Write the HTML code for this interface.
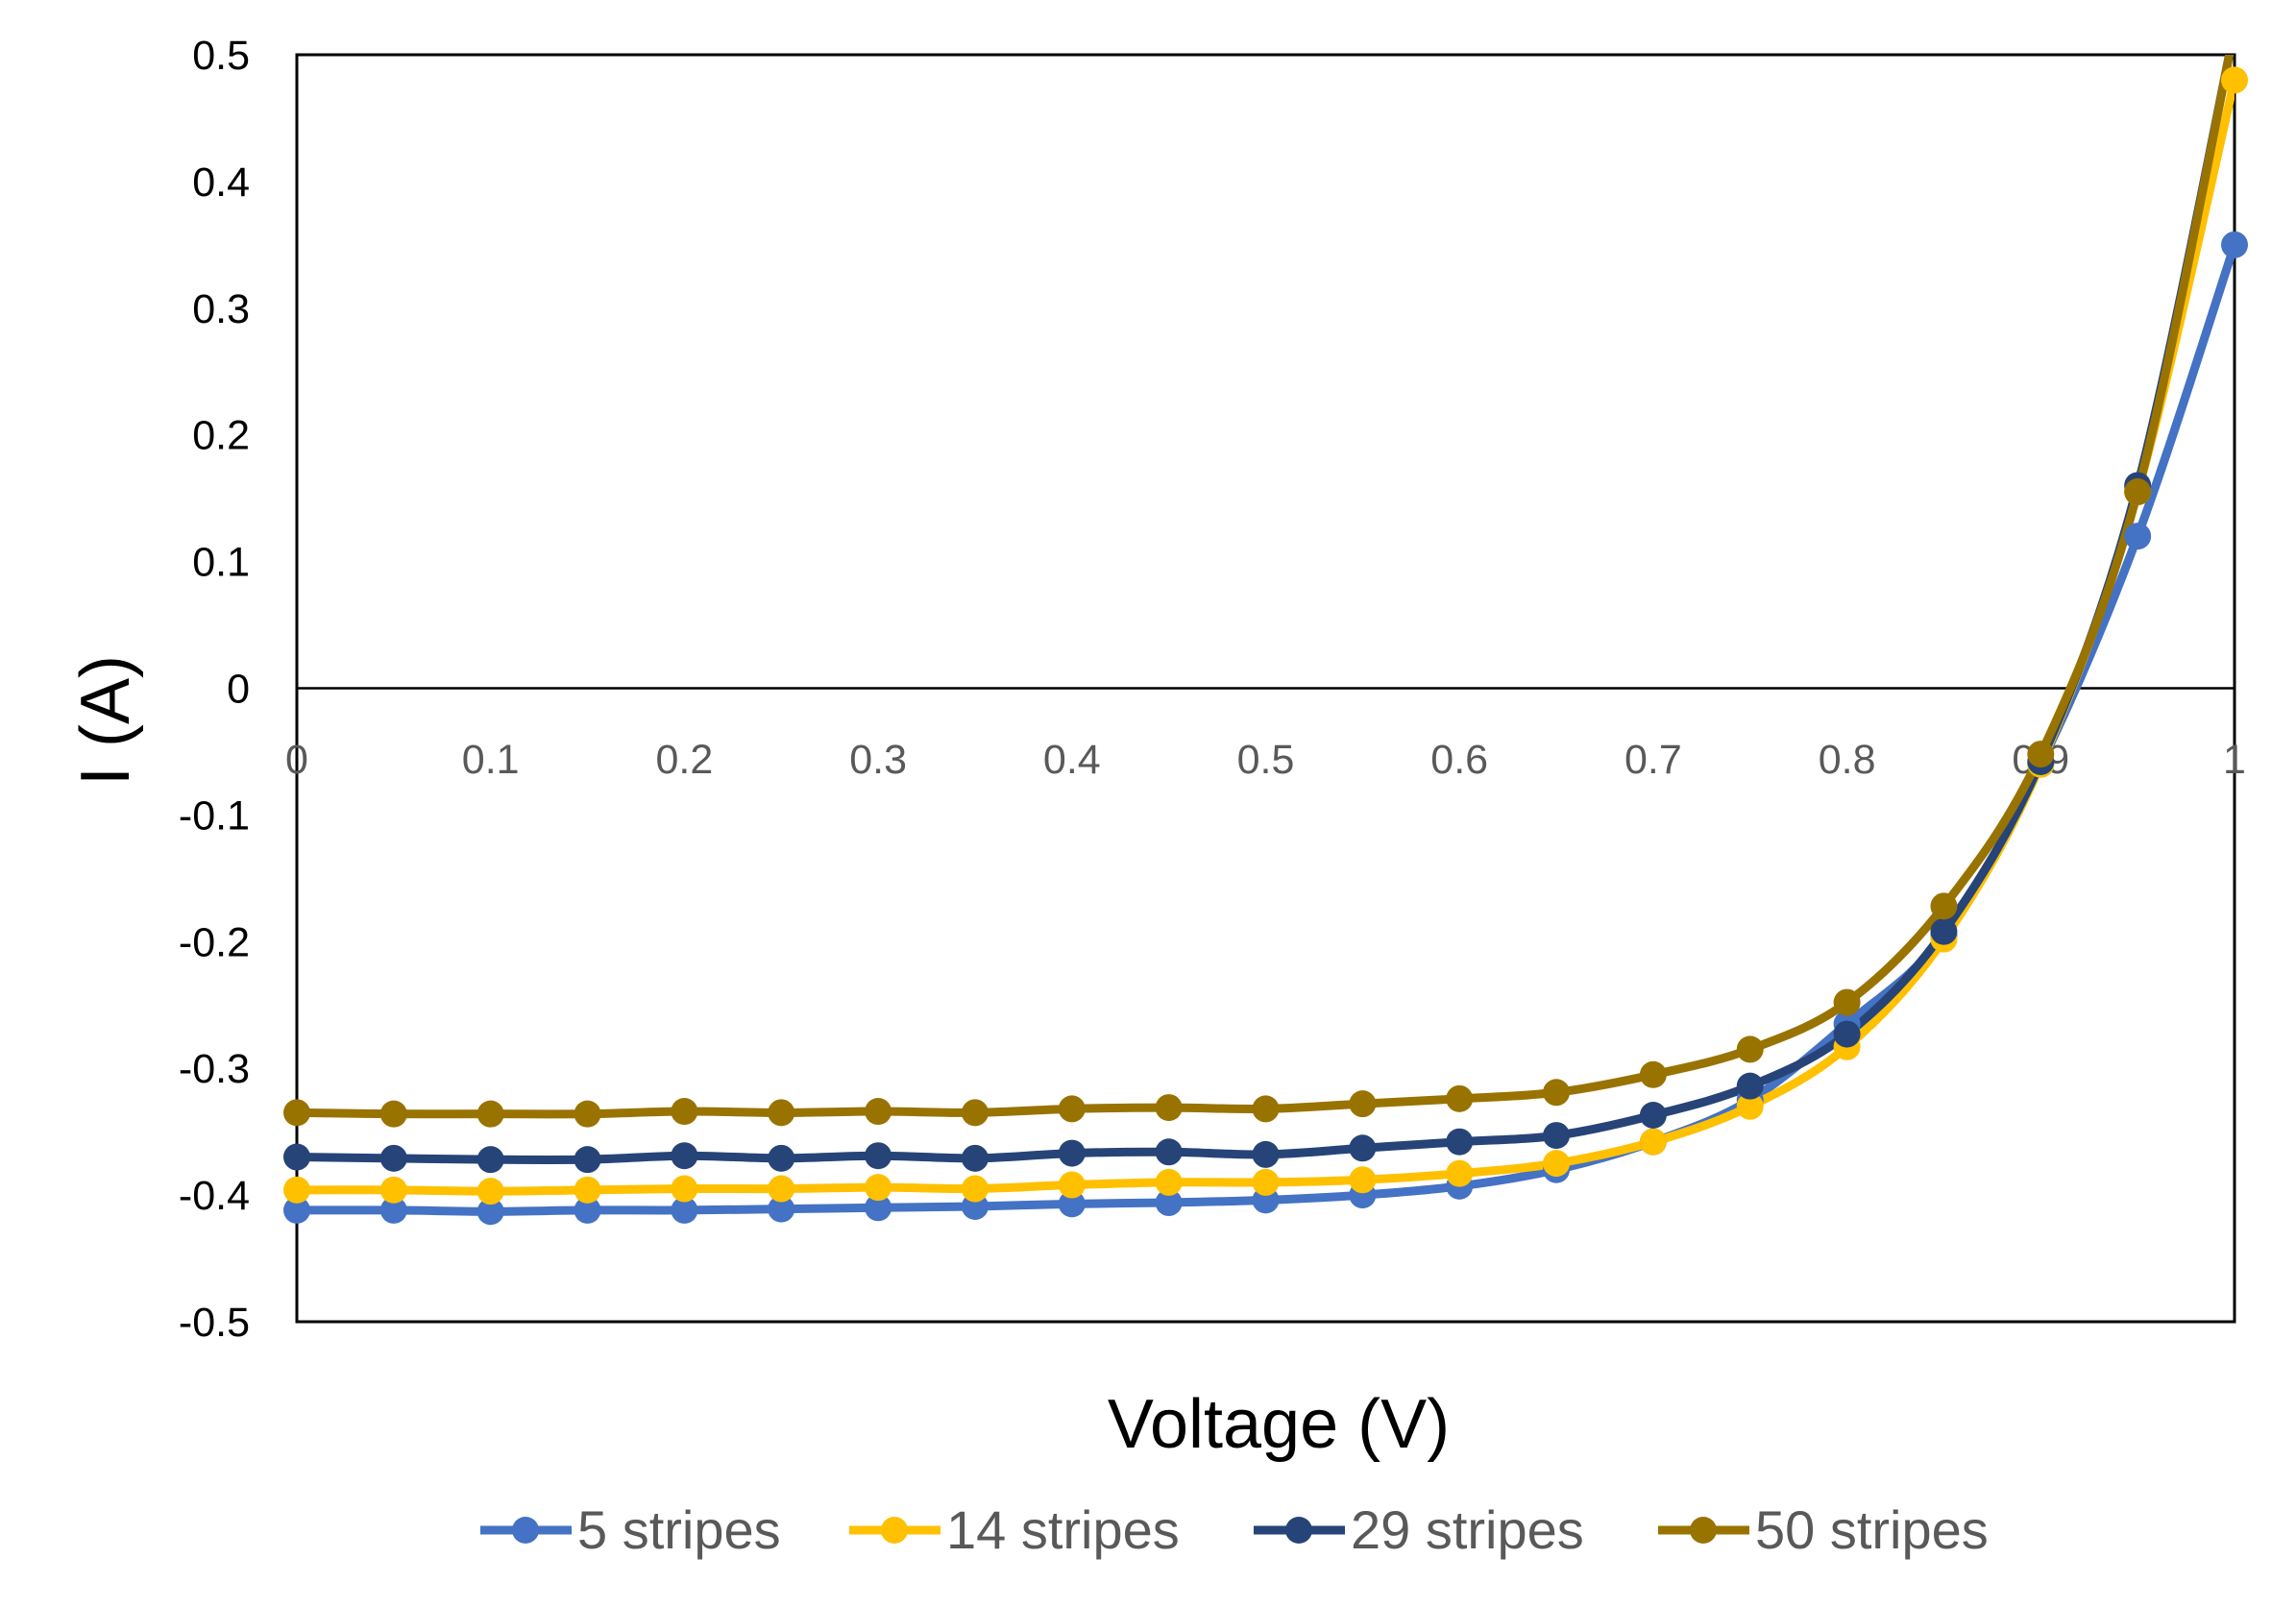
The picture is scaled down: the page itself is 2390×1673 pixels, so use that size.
<!DOCTYPE html>
<html><head><meta charset="utf-8"><style>
html,body{margin:0;padding:0;background:#fff}
svg{display:block;font-family:"Liberation Sans",sans-serif}
</style></head><body>
<svg id="chart" width="2390" height="1673" viewBox="0 0 2390 1673">
<defs><clipPath id="clip"><rect x="309" y="57" width="2017" height="1319"/></clipPath></defs>
<rect id="plotrect" x="309" y="57" width="2017" height="1319" fill="#fff" stroke="#000" stroke-width="3"/>
<g id="yticks"></g><g id="xticks"></g>
<line id="zero" stroke="#000" stroke-width="2.5"/>
<g id="series" clip-path="url(#clip)"></g>
<g id="markers"></g>
<text x="115" y="750" font-size="72" text-anchor="middle" transform="rotate(-90 115 750)" dominant-baseline="middle">I (A)</text>
<text x="1331" y="1507" font-size="72" text-anchor="middle">Voltage (V)</text>
<g id="legend"></g>
</svg>
<script>
const voltages=[0,0.05,0.1,0.15,0.2,0.25,0.3,0.35,0.4,0.45,0.5,0.55,0.6,0.65,0.7,0.75,0.8,0.85,0.9,0.95,1];
const seriesNames=["5 stripes","14 stripes","29 stripes","50 stripes"];
const seriesColors=["#4472C4","#FFC000","#264478","#997300"];
const s5=[-0.412,-0.412,-0.413,-0.412,-0.412,-0.411,-0.410,-0.409,-0.407,-0.406,-0.404,-0.400,-0.393,-0.380,-0.358,-0.325,-0.265,-0.195,-0.060,0.120,0.350];
const s14=[-0.396,-0.396,-0.397,-0.396,-0.395,-0.395,-0.394,-0.395,-0.392,-0.390,-0.390,-0.388,-0.383,-0.375,-0.358,-0.330,-0.283,-0.198,-0.060,0.155,0.480];
const s29=[-0.370,-0.371,-0.372,-0.372,-0.369,-0.371,-0.369,-0.371,-0.367,-0.366,-0.368,-0.363,-0.358,-0.353,-0.337,-0.314,-0.273,-0.192,-0.058,0.160,0.52];
const s50=[-0.335,-0.336,-0.336,-0.336,-0.334,-0.335,-0.334,-0.335,-0.332,-0.331,-0.332,-0.328,-0.324,-0.319,-0.305,-0.285,-0.248,-0.172,-0.052,0.155,0.52];
const yTickLabels=["0.5","0.4","0.3","0.2","0.1","0","-0.1","-0.2","-0.3","-0.4","-0.5"];
const yTickValues=[0.5,0.4,0.3,0.2,0.1,0,-0.1,-0.2,-0.3,-0.4,-0.5];
const xTickLabels=["0","0.1","0.2","0.3","0.4","0.5","0.6","0.7","0.8","0.9","1"];
const xTickValues=[0,0.1,0.2,0.3,0.4,0.5,0.6,0.7,0.8,0.9,1];

const NS="http://www.w3.org/2000/svg";
const L=309,R=2326,T=57,B=1376;
const xs=v=>L+(v-0)/(1-0)*(R-L);
const ys=v=>B-(v+0.5)/1*(B-T);
function mk(tag,attrs,parent){const e=document.createElementNS(NS,tag);for(const k in attrs)e.setAttribute(k,attrs[k]);parent.appendChild(e);return e;}

const z=document.getElementById('zero');
z.setAttribute('x1',L);z.setAttribute('x2',R);z.setAttribute('y1',ys(0));z.setAttribute('y2',ys(0));

const yg=document.getElementById('yticks');
yTickValues.forEach((v,i)=>{const t=mk('text',{x:260,y:ys(v)+15,'font-size':43,'text-anchor':'end',fill:'#000'},yg);t.textContent=yTickLabels[i];

});
const xg=document.getElementById('xticks');
xTickValues.forEach((v,i)=>{const t=mk('text',{x:xs(v),y:805,'font-size':43,'text-anchor':'middle',fill:'#595959'},xg);t.textContent=xTickLabels[i];

});

function smooth(pts){let d=`M${pts[0][0]},${pts[0][1]}`;
for(let i=0;i<pts.length-1;i++){const p0=pts[i-1]||pts[i],p1=pts[i],p2=pts[i+1],p3=pts[i+2]||p2;
const c1=[p1[0]+(p2[0]-p0[0])/6,p1[1]+(p2[1]-p0[1])/6],c2=[p2[0]-(p3[0]-p1[0])/6,p2[1]-(p3[1]-p1[1])/6];
d+=` C${c1[0]},${c1[1]} ${c2[0]},${c2[1]} ${p2[0]},${p2[1]}`;}return d;}

const allSeries=[s5,s14,s29,s50];
const sg=document.getElementById('series'),mg=document.getElementById('markers');
allSeries.forEach((arr,si)=>{
 const pts=arr.map((v,i)=>[xs(voltages[i]),ys(v)]);
 const p=mk('path',{d:smooth(pts),fill:'none',stroke:seriesColors[si],'stroke-width':9,'stroke-linejoin':'round'},sg);
 
 
 pts.forEach((q,i)=>{if(arr[i]>0.5)return;const c=mk('circle',{cx:q[0],cy:q[1],r:14,fill:seriesColors[si]},mg);
 
 });
});

const lg=document.getElementById('legend');
const lx=[500,884,1305,1726];
seriesNames.forEach((n,i)=>{const y=1593;
 const g=mk('g',{},lg);
 
 
 mk('line',{x1:lx[i],x2:lx[i]+95,y1:y,y2:y,stroke:seriesColors[i],'stroke-width':9},g);
 mk('circle',{cx:lx[i]+47,cy:y,r:14,fill:seriesColors[i]},g);
 const t=mk('text',{x:lx[i]+101,y:y+19,'font-size':56,fill:'#595959'},g);t.textContent=n;});
</script>
</body></html>
